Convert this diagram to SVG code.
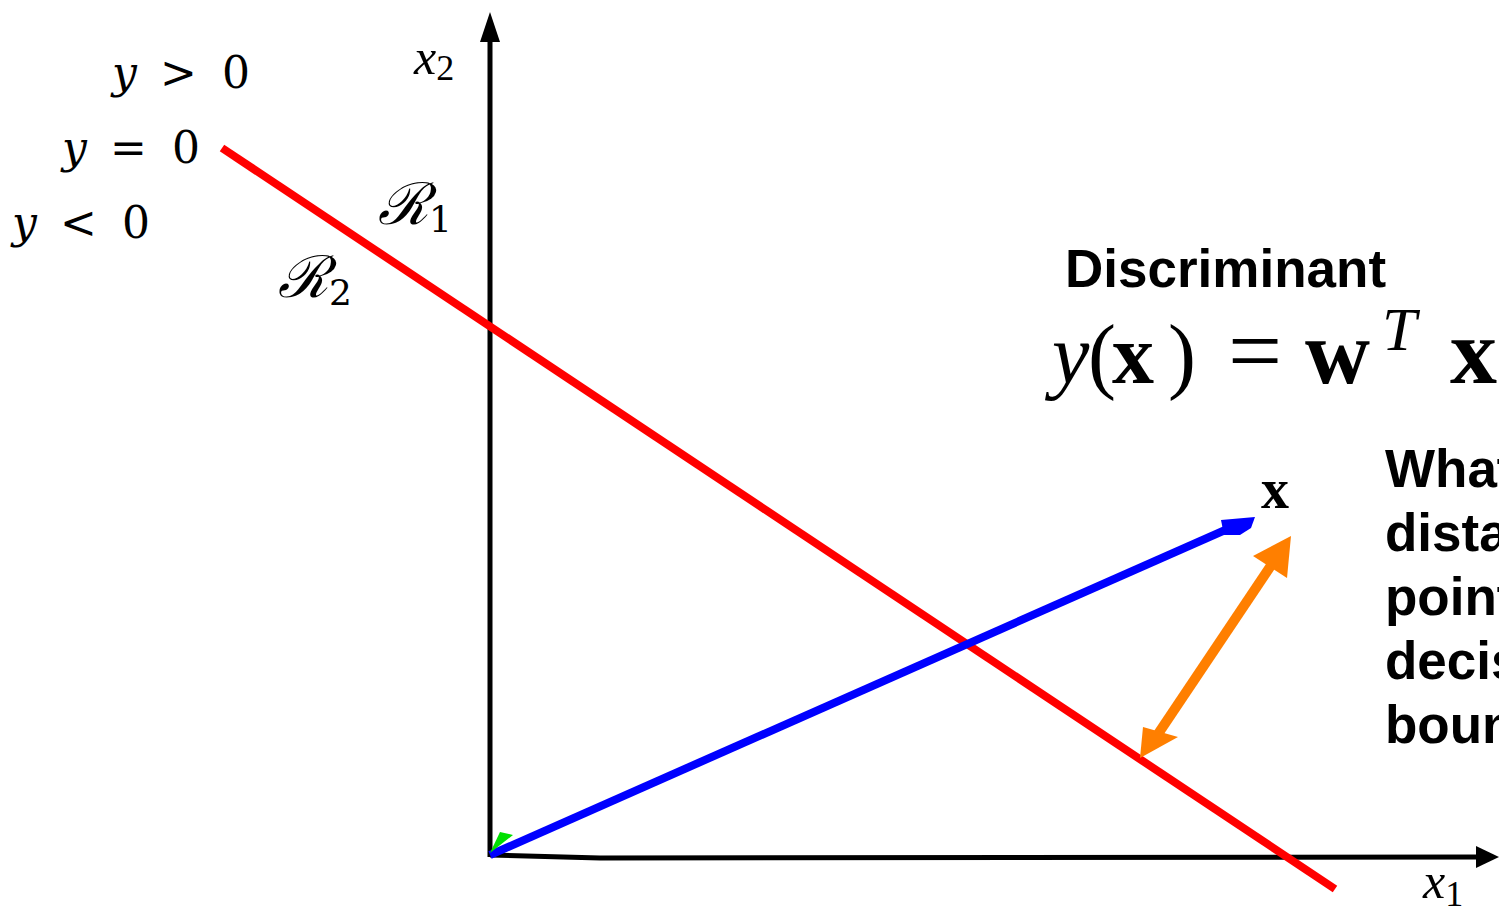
<svg xmlns="http://www.w3.org/2000/svg" width="1499" height="911" viewBox="0 0 1499 911">
<style>
.m{font-family:"Liberation Serif","DejaVu Serif",serif;fill:#000}
.d{font-family:"DejaVu Serif","Liberation Serif",serif;fill:#000}
.i{font-style:italic}
.b{font-weight:bold}
.s{font-family:"Liberation Sans",Arial,sans-serif;font-weight:bold;fill:#000}
.cal{font-family:"DejaVu Serif","Liberation Serif",serif;font-style:italic}
</style>
<rect width="1499" height="911" fill="#fff"/>
<g id="axes">
<line x1="490" y1="857" x2="490" y2="35" stroke="#000" stroke-width="5"/>
<polygon points="490,12 480,42 500,42" fill="#000"/>
<path d="M490,855 L600,858 L1480,857" stroke="#000" stroke-width="5" fill="none"/>
<polygon points="1499,857 1476,846 1476,868" fill="#000"/>
</g>
<g id="connectors">
<line id="boundary" x1="222" y1="148" x2="1335" y2="889" stroke="#ff0000" stroke-width="8"/>
<line id="vector-x" x1="490" y1="855" x2="1232" y2="527" stroke="#0000ff" stroke-width="8"/>
<polygon points="1221,520 1255,517 1251,528 1240,535 1224,535" fill="#0000ff"/>
<polygon points="490,853 500,832 513,835" fill="#00e000"/>
<line id="distance" x1="1158" y1="734" x2="1274" y2="561" stroke="#ff7f00" stroke-width="10"/>
<polygon points="1291,536 1253,556 1287,578" fill="#ff7f00"/>
<polygon points="1140,758 1143,727 1178,737" fill="#ff7f00"/>
</g>
<g id="labels-left">
<text y="88" class="d" font-size="44"><tspan x="112" class="i">y</tspan><tspan x="160">&gt;</tspan><tspan x="222">0</tspan></text>
<text y="163" class="d" font-size="44"><tspan x="62" class="i">y</tspan><tspan x="110">=</tspan><tspan x="172">0</tspan></text>
<text y="238" class="d" font-size="44"><tspan x="12" class="i">y</tspan><tspan x="60">&lt;</tspan><tspan x="122">0</tspan></text>
<text x="378" y="224" class="cal" font-size="58">ℛ<tspan font-size="36" dy="8" font-style="normal">1</tspan></text>
<text x="278" y="297" class="cal" font-size="58">ℛ<tspan font-size="36" dy="8" font-style="normal">2</tspan></text>
<text x="414" y="74" class="m i" font-size="50">x<tspan font-size="36" dy="6" font-style="normal">2</tspan></text>
<text x="1423" y="898" class="m i" font-size="50">x<tspan font-size="36" dy="8" font-style="normal">1</tspan></text>
<text x="1261" y="508" class="m b" font-size="56">x</text>
</g>
<g id="discriminant">
<text x="1065" y="287" class="s" font-size="53">Discriminant</text>
<text y="383" class="m" font-size="84"><tspan x="1052" class="i">y</tspan><tspan x="1088">(</tspan><tspan x="1112" class="b">x</tspan><tspan x="1168">)</tspan><tspan x="1228" font-size="96">=</tspan><tspan x="1305" class="b" font-size="90">w</tspan><tspan x="1382" y="350" font-size="62" class="i">T</tspan><tspan x="1450" y="383" class="b" font-size="94">x</tspan><tspan x="1520">+</tspan><tspan x="1590" class="i">w</tspan></text>
</g>
<g id="question">
<text x="1385" y="487" class="s" font-size="53">What is the</text>
<text x="1385" y="551" class="s" font-size="53">distance of a</text>
<text x="1385" y="615" class="s" font-size="53">point to the</text>
<text x="1385" y="679" class="s" font-size="53">decision</text>
<text x="1385" y="743" class="s" font-size="53">boundary?</text>
</g>
</svg>
